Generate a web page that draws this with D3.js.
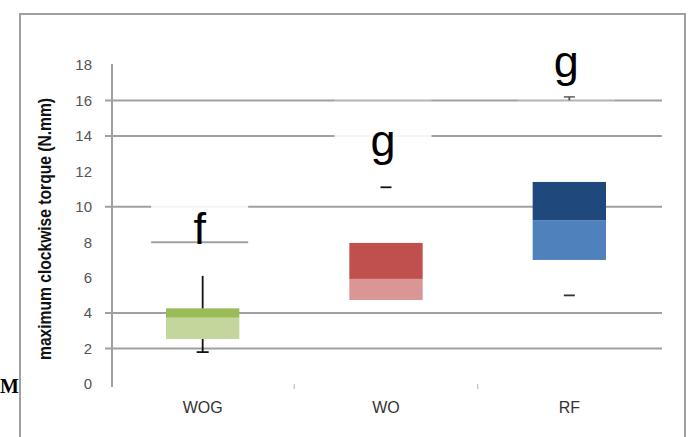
<!DOCTYPE html>
<html>
<head>
<meta charset="utf-8">
<script src="https://cdn.jsdelivr.net/npm/d3@7"></script>
<style>
  html, body { margin: 0; padding: 0; background: #fff; }
  svg { display: block; }
</style>
</head>
<body>
<svg id="chart" width="691" height="437"></svg>
<script>
// Maximum clockwise torque per group, drawn as stacked quartile boxes
const categories = ["WOG", "WO", "RF"];
const q1Values = [2.54, 4.74, 7.0];
const medianValues = [3.74, 5.93, 9.24];
const q3Values = [4.27, 7.96, 11.4];
const whiskerLow = [1.8, null, 5.0];
const whiskerHigh = [6.1, 11.1, 16.2];
const groupLetters = ["f", "g", "g"];
const letterValues = [7.9, 12.85, 17.3];
const yTickValues = [0, 2, 4, 6, 8, 10, 12, 14, 16, 18];
const gridValues = [2, 4, 10, 14, 16];

const darkColors = { WOG: "#9bbb59", WO: "#c0504d", RF: "#1f497d" };
const lightColors = { WOG: "#c3d69b", WO: "#d99694", RF: "#4f81bd" };
const stemGroups = new Set(["WOG"]);

const svg = d3.select("#chart");
const gridColor = "#a0a0a0";

// outer frame
svg.append("rect")
  .attr("x", 20).attr("y", 14)
  .attr("width", 665).attr("height", 460)
  .attr("fill", "none").attr("stroke", gridColor).attr("stroke-width", 2);

const y = d3.scaleLinear().domain([0, 18]).range([384, 65]);
const x = d3.scaleBand().domain(categories).range([111, 661]);
const boxW = x.step() * 0.4;

// horizontal gridlines, extending left of the axis as ticks
svg.append("g").selectAll("line").data(gridValues).join("line")
  .attr("x1", 105).attr("x2", 662)
  .attr("y1", d => y(d)).attr("y2", d => y(d))
  .attr("stroke", gridColor).attr("stroke-width", 2);

// value axis line
svg.append("line")
  .attr("x1", 112).attr("x2", 112)
  .attr("y1", 64).attr("y2", 387)
  .attr("stroke", gridColor).attr("stroke-width", 2);

// value tick labels
const yAxis = d3.axisLeft(y).tickValues(yTickValues).tickSize(0).tickPadding(0);
const yg = svg.append("g").attr("transform", "translate(92,0)").call(yAxis);
yg.select(".domain").remove();
yg.selectAll("text")
  .attr("font-family", "'Liberation Sans', Arial, sans-serif")
  .attr("font-size", 15)
  .attr("fill", "#555");

// category axis: faint separators and labels
const xAxis = d3.axisBottom(x).tickSize(0).tickPadding(0);
const xg = svg.append("g").attr("transform", "translate(0,401)").call(xAxis);
xg.select(".domain").remove();
xg.selectAll("text")
  .attr("dy", "0.75em")
  .attr("font-family", "'Liberation Sans', Arial, sans-serif")
  .attr("font-size", 16)
  .attr("fill", "#333");
const seps = categories.slice(1).map(c => x(c));
svg.append("g").selectAll("line").data(seps).join("line")
  .attr("x1", d => d).attr("x2", d => d)
  .attr("y1", 384).attr("y2", 389)
  .attr("stroke", "#c8c8c8").attr("stroke-width", 1.5);

// value axis title
svg.append("text")
  .attr("transform", "translate(51,229) rotate(-90)")
  .attr("text-anchor", "middle")
  .attr("font-family", "'Liberation Sans', Arial, sans-serif")
  .attr("font-weight", "bold")
  .attr("font-size", 19)
  .attr("textLength", 262)
  .attr("lengthAdjust", "spacingAndGlyphs")
  .attr("fill", "#111")
  .text("maximum clockwise torque (N.mm)");

// stray page letter beside the frame
svg.append("text")
  .attr("x", 19).attr("y", 393)
  .attr("text-anchor", "end")
  .attr("font-family", "'Liberation Serif', 'Times New Roman', serif")
  .attr("font-weight", "bold")
  .attr("font-size", 20)
  .attr("fill", "#000")
  .text("M");

// letter annotation boxes washing out the gridlines they sit on
const cx = c => x(c) + x.bandwidth() / 2;
const washW = 97;
const washes = [
  { cat: "WOG", value: 10, opacity: 0.9 },
  { cat: "WO", value: 14, opacity: 0.9 },
  { cat: "WO", value: 16, opacity: 0.22 },
  { cat: "RF", value: 16, opacity: 0.22 }
];
svg.append("g").selectAll("rect").data(washes).join("rect")
  .attr("x", d => cx(d.cat) - 3 - washW / 2)
  .attr("y", d => y(d.value) - 2)
  .attr("width", washW).attr("height", 4)
  .attr("fill", "#fff").attr("fill-opacity", d => d.opacity);
// underline of the first annotation box
svg.append("line")
  .attr("x1", cx("WOG") - 3 - washW / 2).attr("x2", cx("WOG") - 3 + washW / 2)
  .attr("y1", y(8)).attr("y2", y(8))
  .attr("stroke", gridColor).attr("stroke-width", 2);

const rows = categories.map((c, i) => ({
  c, q1: q1Values[i], med: medianValues[i], q3: q3Values[i],
  lo: whiskerLow[i], hi: whiskerHigh[i], letter: groupLetters[i], lv: letterValues[i]
}));

// quartile boxes: lower half light, upper half dark
const boxes = svg.append("g");
boxes.selectAll("rect.lower").data(rows).join("rect")
  .attr("class", "lower")
  .attr("x", d => cx(d.c) - boxW / 2)
  .attr("y", d => y(d.med))
  .attr("width", boxW)
  .attr("height", d => y(d.q1) - y(d.med))
  .attr("fill", d => lightColors[d.c]);
boxes.selectAll("rect.upper").data(rows).join("rect")
  .attr("class", "upper")
  .attr("x", d => cx(d.c) - boxW / 2)
  .attr("y", d => y(d.q3))
  .attr("width", boxW)
  .attr("height", d => y(d.med) - y(d.q3))
  .attr("fill", d => darkColors[d.c]);

// whiskers
const wg = svg.append("g").attr("stroke", "#111").attr("stroke-width", 1.8);
rows.forEach(d => {
  const xc = cx(d.c);
  if (stemGroups.has(d.c)) {
    wg.append("line").attr("x1", xc).attr("x2", xc)
      .attr("y1", y(d.q3)).attr("y2", y(d.hi));
    if (d.lo != null) {
      wg.append("line").attr("x1", xc).attr("x2", xc)
        .attr("y1", y(d.q1)).attr("y2", y(d.lo));
      wg.append("line").attr("x1", xc - 6).attr("x2", xc + 6)
        .attr("y1", y(d.lo)).attr("y2", y(d.lo));
    }
  } else {
    wg.append("line").attr("x1", xc - 5.5).attr("x2", xc + 5.5)
      .attr("y1", y(d.hi)).attr("y2", y(d.hi))
      .attr("stroke", d.hi > 16 ? "#777" : "#111");
    if (d.hi > 16) {
      wg.append("line").attr("x1", xc).attr("x2", xc)
        .attr("y1", y(d.hi)).attr("y2", y(16))
        .attr("stroke", "#555");
    }
    if (d.lo != null) {
      wg.append("line").attr("x1", xc - 5.5).attr("x2", xc + 5.5)
        .attr("y1", y(d.lo)).attr("y2", y(d.lo))
        .attr("stroke", "#333");
    }
  }
});

// significance letters
svg.append("g").selectAll("text").data(rows).join("text")
  .attr("x", d => cx(d.c) - 3)
  .attr("y", d => y(d.lv))
  .attr("text-anchor", "middle")
  .attr("font-family", "'Liberation Sans', Arial, sans-serif")
  .attr("font-size", 45)
  .attr("fill", "#000")
  .text(d => d.letter);
</script>
</body>
</html>
